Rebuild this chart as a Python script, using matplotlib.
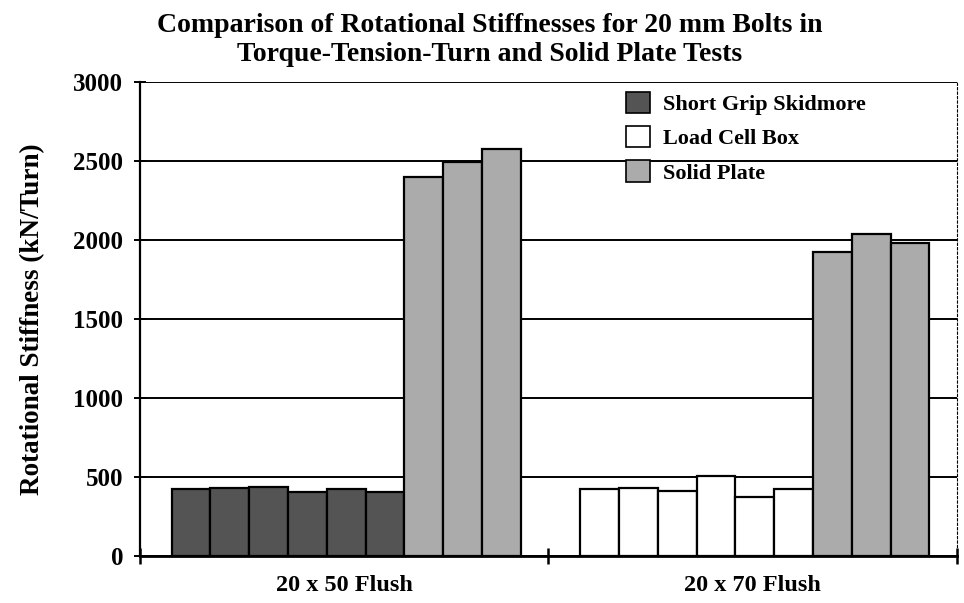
import numpy as np
import matplotlib
matplotlib.use("Agg")
import matplotlib.pyplot as plt
from matplotlib.patches import Patch

# -----------------------------
# DATA
# -----------------------------
groups = ["20 x 50 Flush", "20 x 70 Flush"]
series_names = ["Short Grip Skidmore", "Load Cell Box", "Solid Plate"]

# group 1: six Skidmore tests, then three solid plate tests
skidmore_50 = [424, 432, 437, 407, 426, 407]
solid_50 = [2400, 2496, 2576]
# group 2: six load cell box tests, then three solid plate tests
loadcell_70 = [426, 430, 413, 506, 375, 424]
solid_70 = [1922, 2038, 1979]

yticks = [0, 500, 1000, 1500, 2000, 2500, 3000]

colors = {"Short Grip Skidmore": "#545454",
          "Load Cell Box": "white",
          "Solid Plate": "#ababab"}

plt.rcParams["font.family"] = ["Liberation Serif", "DejaVu Serif"]
plt.rcParams["font.weight"] = "bold"

fig = plt.figure(figsize=(9.64, 6.03), dpi=100)
ax = fig.add_axes([0.1452, 0.0779, 0.8475, 0.786])

w = 0.095
start = 0.5 - 4.5 * w + 0.005


def draw_group(gi, first_vals, first_name, second_vals):
    vals = list(first_vals) + list(second_vals)
    names = [first_name] * len(first_vals) + ["Solid Plate"] * len(second_vals)
    for i, (v, n) in enumerate(zip(vals, names)):
        ax.bar(gi + start + i * w, v, width=w, align="edge",
               color=colors[n], edgecolor="black", linewidth=1.6, zorder=3)


draw_group(0, skidmore_50, "Short Grip Skidmore", solid_50)
draw_group(1, loadcell_70, "Load Cell Box", solid_70)

ax.set_xlim(0, 2)
ax.set_ylim(0, 3000)
ax.set_yticks(yticks)
ax.set_yticklabels([str(t) for t in yticks], fontsize=18, fontweight="bold")
ax.yaxis.grid(True, color="black", linewidth=1.4, zorder=0)

ax.set_xticks([0, 1, 2])
ax.set_xticklabels([])
ax.set_xticks([0.5, 1.5], minor=True)
ax.set_xticklabels(groups, minor=True, fontsize=17.5, fontweight="bold")
ax.tick_params(axis="x", which="minor", length=0, pad=14)
ax.tick_params(axis="x", which="major", length=12, width=1.8, direction="inout")
ax.tick_params(axis="y", length=8, width=1.4, direction="inout", pad=8)

ax.spines["top"].set_visible(False)
ax.spines["right"].set_linestyle((0, (2, 2)))
ax.spines["right"].set_linewidth(0.8)
ax.spines["left"].set_linewidth(1.6)
ax.spines["bottom"].set_linewidth(2.0)

ax.set_ylabel("Rotational Stiffness (kN/Turn)", fontsize=19.5,
              fontweight="bold", labelpad=20)

fig.suptitle("Comparison of Rotational Stiffnesses for 20 mm Bolts in\n"
             "Torque-Tension-Turn and Solid Plate Tests",
             fontsize=20, fontweight="bold", y=0.978, x=0.508,
             linespacing=1.2)

handles = [Patch(facecolor=colors[n], edgecolor="black", linewidth=1.2)
           for n in series_names]
ax.legend(handles, series_names, loc="upper left",
          bbox_to_anchor=(0.57, 1.022), frameon=False,
          prop={"weight": "bold", "size": 16},
          handlelength=1.1, handleheight=1.1, labelspacing=0.5,
          handletextpad=0.6)

fig.savefig("out.png", dpi=100)
